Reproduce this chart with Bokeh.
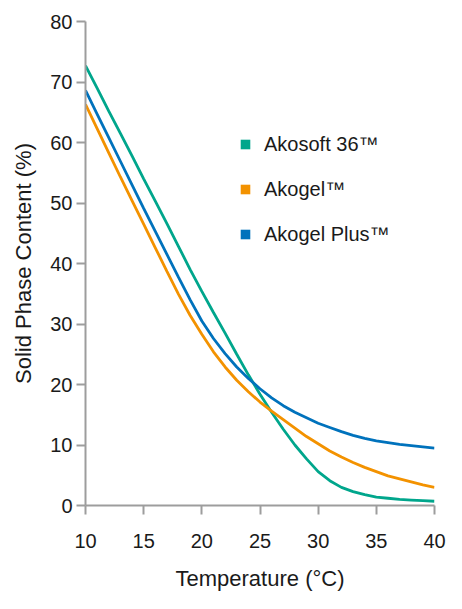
from bokeh.plotting import figure
from bokeh.models import Legend, LegendItem, FixedTicker
from bokeh.embed import file_html
from bokeh.resources import INLINE

temperature = list(range(10, 41))
akosoft36 = [72.7, 69.0, 65.2, 61.5, 57.8, 54.0, 50.3, 46.6, 42.8, 39.0, 35.4,
             31.9, 28.5, 25.0, 21.6, 18.4, 15.4, 12.6, 10.0, 7.7, 5.6,
             4.1, 3.0, 2.3, 1.8, 1.4, 1.2, 1.0, 0.9, 0.8, 0.7]
akogel = [66.3, 62.3, 58.3, 54.3, 50.4, 46.5, 42.6, 38.7, 34.9, 31.4, 28.3,
          25.4, 22.9, 20.7, 18.8, 17.1, 15.6, 14.2, 12.8, 11.4, 10.2,
          9.0, 8.0, 7.1, 6.3, 5.6, 4.9, 4.4, 3.9, 3.4, 3.0]
akogel_plus = [68.6, 64.7, 60.8, 56.9, 53.0, 49.1, 45.3, 41.5, 37.7, 34.0, 30.5,
               27.6, 25.1, 22.9, 21.0, 19.3, 17.8, 16.5, 15.4, 14.5, 13.6,
               12.9, 12.2, 11.6, 11.1, 10.7, 10.4, 10.1, 9.9, 9.7, 9.5]

series_names = ["Akosoft 36\u2122", "Akogel\u2122", "Akogel Plus\u2122"]
series_values = [akosoft36, akogel, akogel_plus]
series_colors = ["#00a68c", "#f39200", "#0072bc"]
x_ticks = [10, 15, 20, 25, 30, 35, 40]
y_ticks = [0, 10, 20, 30, 40, 50, 60, 70, 80]

FONT = "Liberation Sans"
AXIS_GRAY = "#9d9d9d"
TEXT = "#1a1a1a"

p = figure(width=446, height=593, x_range=(10, 40), y_range=(0, 80),
           output_backend="svg", toolbar_location=None,
           min_border_left=85, min_border_top=21, min_border_right=12,
           min_border_bottom=85)
p.outline_line_color = None
p.xgrid.visible = False
p.ygrid.visible = False

for name, vals, col in zip(series_names, series_values, series_colors):
    p.line(temperature, vals, line_color=col, line_width=2.8)

legend_items = []
for name, vals, col in zip(series_names, series_values, series_colors):
    r = p.scatter(x=temperature[:1], y=vals[:1], marker="square", size=10,
                  fill_color=col, line_color=None, visible=False)
    legend_items.append(LegendItem(label=name, renderers=[r]))

legend = Legend(items=legend_items, location=(148, 259),
                glyph_width=24, glyph_height=24, label_height=24,
                spacing=21, label_standoff=7, padding=0, margin=0,
                border_line_color=None, background_fill_alpha=0,
                label_text_font=FONT, label_text_font_size="20px",
                label_text_color=TEXT)
p.add_layout(legend, "center")

for ax in (p.xaxis, p.yaxis):
    ax.axis_line_color = AXIS_GRAY
    ax.axis_line_width = 2
    ax.major_tick_line_color = AXIS_GRAY
    ax.major_tick_line_width = 2
    ax.major_tick_in = 0
    ax.major_tick_out = 9
    ax.minor_tick_line_color = None
    ax.major_label_text_font = FONT
    ax.major_label_text_font_size = "20px"
    ax.major_label_text_color = TEXT
    ax.axis_label_text_font = FONT
    ax.axis_label_text_font_size = "22px"
    ax.axis_label_text_font_style = "normal"
    ax.axis_label_text_color = TEXT

p.xaxis.ticker = FixedTicker(ticks=x_ticks)
p.yaxis.ticker = FixedTicker(ticks=y_ticks)
p.xaxis.major_label_standoff = 19
p.yaxis.major_label_standoff = 4
p.xaxis.axis_label = "Temperature (\u00b0C)"
p.yaxis.axis_label = "Solid Phase Content (%)"
p.xaxis.axis_label_standoff = 15
p.yaxis.axis_label_standoff = 11

open("out.html", "w").write(file_html(p, INLINE))
